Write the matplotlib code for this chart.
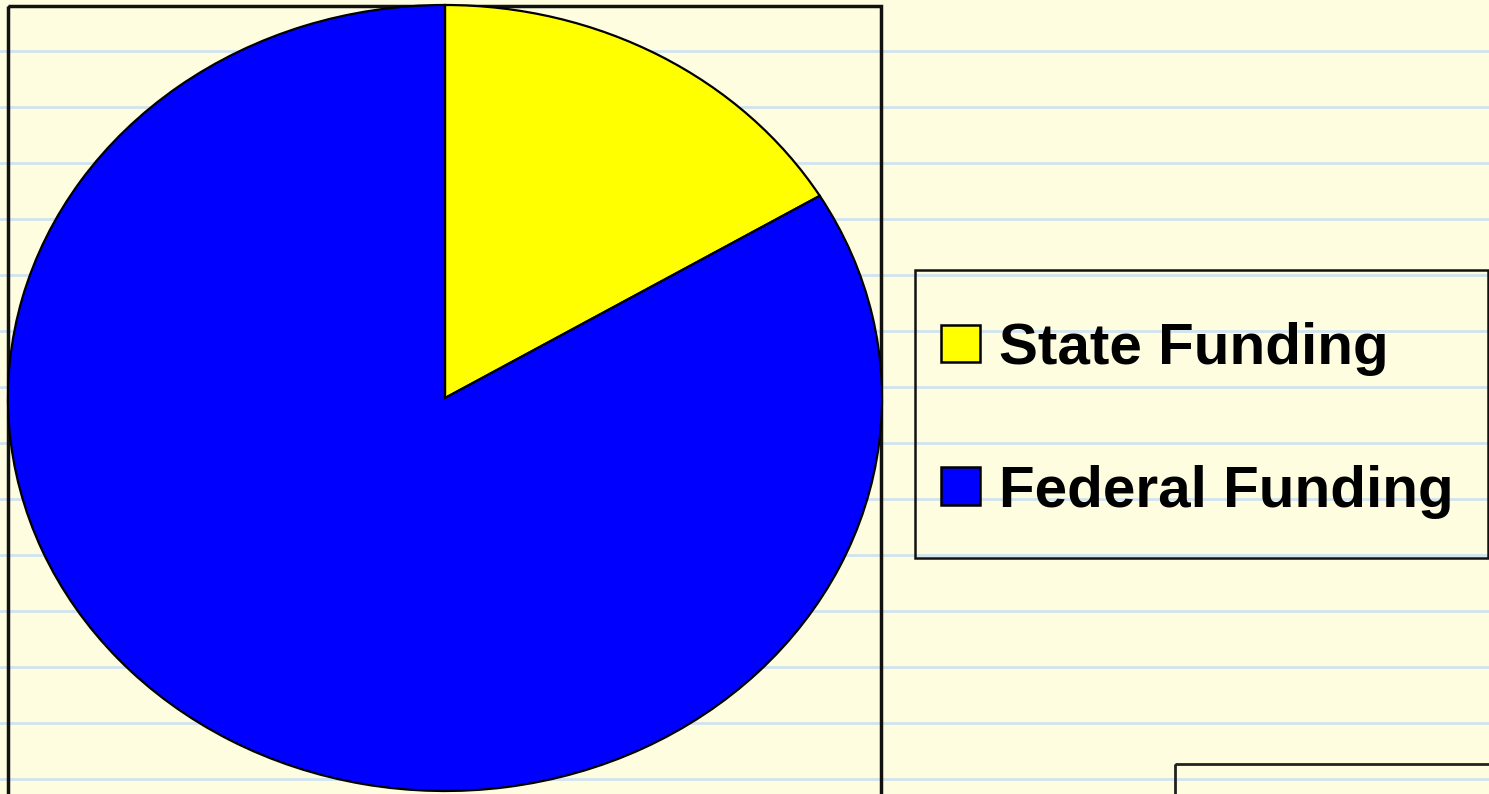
import numpy as np
import matplotlib.pyplot as plt
from matplotlib.patches import Rectangle, Patch

# ========== DATA ==========
labels = ["State Funding", "Federal Funding"]
shares = [16.4, 83.6]
colors = ["#FFFF00", "#0000FF"]

# ========== FIGURE ==========
W, H = 1489, 794
BG = "#FEFDE0"
RULE = "#CFE3F0"

fig = plt.figure(figsize=(W / 100, H / 100), dpi=100, facecolor=BG)

# ruled-paper background
bg = fig.add_axes([0, 0, 1, 1], zorder=0)
bg.set_xlim(0, W)
bg.set_ylim(H, 0)
bg.set_facecolor(BG)
bg.axis('off')
for y in np.arange(51, H, 56):
    bg.axhline(y, color=RULE, lw=2)

# plot-area frame (runs off the bottom)
bg.add_patch(Rectangle((8, 6), 873, H + 20, fill=False, ec="#111111", lw=2.5, zorder=3))
# partial box at bottom right
bg.add_patch(Rectangle((1174.5, 763.5), 400, 100, fill=False, ec="#222222", lw=2, zorder=3))
# legend frame
bg.add_patch(Rectangle((914.5, 270), 573, 288, fill=False, ec="#111111", lw=1.8, zorder=3))

# ========== PIE (elliptical) ==========
ax = fig.add_axes([8 / W, 3 / H, 874 / W, 786 / H], zorder=2)
ax.pie(shares, colors=colors, startangle=90, counterclock=False,
       wedgeprops=dict(edgecolor="black", linewidth=1.6))
ax.set_aspect('auto')
ax.set_xlim(-1, 1)
ax.set_ylim(-1, 1)
ax.axis('off')

# ========== LEGEND ==========
handles = [Patch(facecolor=c, edgecolor="black", linewidth=1.8) for c in colors]
leg = fig.legend(handles, labels, loc='upper left',
                 bbox_to_anchor=(941 / W, 1 - 322 / H),
                 frameon=False, handlelength=0.67, handleheight=0.62,
                 handletextpad=0.33, labelspacing=1.52, borderpad=0,
                 borderaxespad=0,
                 prop=dict(family="Liberation Sans", weight="bold", size=42))
leg.set_zorder(4)

fig.savefig("out.png", dpi=100, facecolor=BG)
